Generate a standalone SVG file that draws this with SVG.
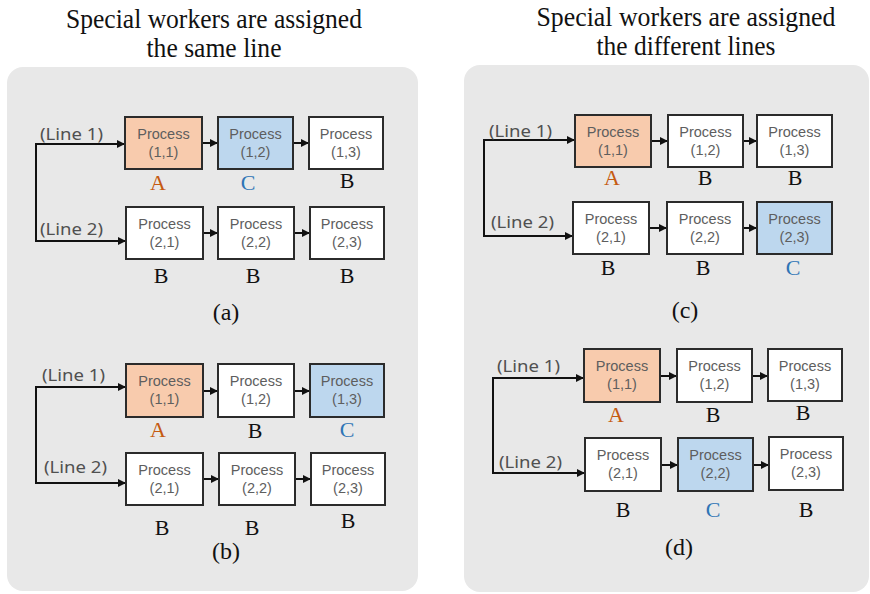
<svg xmlns="http://www.w3.org/2000/svg" width="870" height="594" viewBox="0 0 870 594">
  <defs>
    <marker id="arr" viewBox="0 0 10 10" refX="10" refY="5" markerWidth="8" markerHeight="8" markerUnits="userSpaceOnUse" orient="auto">
      <path d="M0,0 L10,5 L0,10 z" fill="#111"/>
    </marker>
    <style>
      .panel { fill: #e8e8e8; }
      .box { stroke: #2b2b2b; stroke-width: 2; }
      .plain { fill: #ffffff; }
      .orange { fill: #f8cbad; }
      .blue { fill: #bdd7ee; }
      .ptxt { font-family: "Liberation Sans", Arial, sans-serif; font-size: 14.5px; fill: #5e5e5e; text-anchor: middle; }
      .ltxt { font-family: "Noto Sans", "Liberation Sans", sans-serif; font-size: 16px; fill: #505050; }
      .wk { font-family: "Liberation Serif", serif; font-size: 22px; text-anchor: middle; fill: #111; }
      .wa { fill: #c55a11; }
      .wc { fill: #2e75b6; }
      .cap { font-family: "Liberation Serif", serif; font-size: 24px; text-anchor: middle; fill: #111; }
      .title { font-family: "Liberation Serif", serif; font-size: 27px; text-anchor: middle; fill: #111; }
      .con { fill: none; stroke: #111; stroke-width: 2; }
    </style>
  </defs>

  <!-- titles -->
  <text class="title" x="214" y="28" textLength="296" lengthAdjust="spacingAndGlyphs">Special workers are assigned</text>
  <text class="title" x="214" y="57" textLength="135" lengthAdjust="spacingAndGlyphs">the same line</text>
  <text class="title" x="686" y="26" textLength="299" lengthAdjust="spacingAndGlyphs">Special workers are assigned</text>
  <text class="title" x="686" y="55" textLength="179" lengthAdjust="spacingAndGlyphs">the different lines</text>

  <!-- backgrounds -->
  <rect class="panel" x="7" y="67" width="411" height="524" rx="16"/>
  <rect class="panel" x="464" y="65" width="405" height="527" rx="16"/>

  <!-- connectors -->
  <g id="connectors">
    <!-- (a) -->
    <path class="con" d="M36,144 V241 H126" marker-end="url(#arr)"/>
    <path class="con" d="M35,144 H125" marker-end="url(#arr)"/>
    <path class="con" d="M202,143 H218" marker-end="url(#arr)"/>
    <path class="con" d="M293,143 H309" marker-end="url(#arr)"/>
    <path class="con" d="M203,233 H218" marker-end="url(#arr)"/>
    <path class="con" d="M294,233 H310" marker-end="url(#arr)"/>
    <!-- (b) -->
    <path class="con" d="M36,387 V483 H126" marker-end="url(#arr)"/>
    <path class="con" d="M35,387 H126" marker-end="url(#arr)"/>
    <path class="con" d="M203,391 H218" marker-end="url(#arr)"/>
    <path class="con" d="M294,391 H310" marker-end="url(#arr)"/>
    <path class="con" d="M203,479 H219" marker-end="url(#arr)"/>
    <path class="con" d="M295,479 H311" marker-end="url(#arr)"/>
    <!-- (c) -->
    <path class="con" d="M484,140 V236 H573" marker-end="url(#arr)"/>
    <path class="con" d="M483,140 H575" marker-end="url(#arr)"/>
    <path class="con" d="M651,141 H668" marker-end="url(#arr)"/>
    <path class="con" d="M743,141 H757" marker-end="url(#arr)"/>
    <path class="con" d="M649,228 H667" marker-end="url(#arr)"/>
    <path class="con" d="M743,228 H757" marker-end="url(#arr)"/>
    <!-- (d) -->
    <path class="con" d="M493,378 V473 H585" marker-end="url(#arr)"/>
    <path class="con" d="M492,378 H584" marker-end="url(#arr)"/>
    <path class="con" d="M660,376 H677" marker-end="url(#arr)"/>
    <path class="con" d="M752,376 H768" marker-end="url(#arr)"/>
    <path class="con" d="M661,465 H678" marker-end="url(#arr)"/>
    <path class="con" d="M753,465 H769" marker-end="url(#arr)"/>
  </g>

  <!-- panel (a) -->
  <g id="panel-a">
    <text class="ltxt" x="40" y="140" textLength="63" lengthAdjust="spacingAndGlyphs">(Line 1)</text>
    <text class="ltxt" x="40" y="235" textLength="63" lengthAdjust="spacingAndGlyphs">(Line 2)</text>
    <g id="a-p11"><rect class="box orange" x="125" y="117" width="77" height="52"/><text class="ptxt" x="163.5" y="139">Process</text><text class="ptxt" x="163.5" y="157">(1,1)</text></g>
    <g id="a-p12"><rect class="box blue" x="218" y="117" width="75" height="52"/><text class="ptxt" x="255.5" y="139">Process</text><text class="ptxt" x="255.5" y="157">(1,2)</text></g>
    <g id="a-p13"><rect class="box plain" x="309" y="117" width="74" height="52"/><text class="ptxt" x="346" y="139">Process</text><text class="ptxt" x="346" y="157">(1,3)</text></g>
    <g id="a-p21"><rect class="box plain" x="126" y="207" width="77" height="52"/><text class="ptxt" x="164.5" y="229">Process</text><text class="ptxt" x="164.5" y="247">(2,1)</text></g>
    <g id="a-p22"><rect class="box plain" x="218" y="207" width="76" height="52"/><text class="ptxt" x="256" y="229">Process</text><text class="ptxt" x="256" y="247">(2,2)</text></g>
    <g id="a-p23"><rect class="box plain" x="310" y="207" width="74" height="52"/><text class="ptxt" x="347" y="229">Process</text><text class="ptxt" x="347" y="247">(2,3)</text></g>
    <text class="wk wa" x="158" y="190">A</text>
    <text class="wk wc" x="248" y="190">C</text>
    <text class="wk" x="347" y="188">B</text>
    <text class="wk" x="161" y="283">B</text>
    <text class="wk" x="253" y="283">B</text>
    <text class="wk" x="347" y="283">B</text>
    <text class="cap" x="226" y="320">(a)</text>
  </g>

  <!-- panel (b) -->
  <g id="panel-b">
    <text class="ltxt" x="42" y="381" textLength="63" lengthAdjust="spacingAndGlyphs">(Line 1)</text>
    <text class="ltxt" x="44" y="473" textLength="63" lengthAdjust="spacingAndGlyphs">(Line 2)</text>
    <g id="b-p11"><rect class="box orange" x="126" y="364" width="77" height="53"/><text class="ptxt" x="164.5" y="386">Process</text><text class="ptxt" x="164.5" y="404">(1,1)</text></g>
    <g id="b-p12"><rect class="box plain" x="218" y="364" width="76" height="53"/><text class="ptxt" x="256" y="386">Process</text><text class="ptxt" x="256" y="404">(1,2)</text></g>
    <g id="b-p13"><rect class="box blue" x="310" y="364" width="74" height="53"/><text class="ptxt" x="347" y="386">Process</text><text class="ptxt" x="347" y="404">(1,3)</text></g>
    <g id="b-p21"><rect class="box plain" x="126" y="453" width="77" height="52"/><text class="ptxt" x="164.5" y="475">Process</text><text class="ptxt" x="164.5" y="493">(2,1)</text></g>
    <g id="b-p22"><rect class="box plain" x="219" y="453" width="76" height="52"/><text class="ptxt" x="257" y="475">Process</text><text class="ptxt" x="257" y="493">(2,2)</text></g>
    <g id="b-p23"><rect class="box plain" x="311" y="453" width="74" height="52"/><text class="ptxt" x="348" y="475">Process</text><text class="ptxt" x="348" y="493">(2,3)</text></g>
    <text class="wk wa" x="158" y="437">A</text>
    <text class="wk" x="255" y="438">B</text>
    <text class="wk wc" x="347" y="437">C</text>
    <text class="wk" x="162" y="535">B</text>
    <text class="wk" x="252" y="535">B</text>
    <text class="wk" x="348" y="528">B</text>
    <text class="cap" x="226" y="559">(b)</text>
  </g>

  <!-- panel (c) -->
  <g id="panel-c">
    <text class="ltxt" x="489" y="137" textLength="63" lengthAdjust="spacingAndGlyphs">(Line 1)</text>
    <text class="ltxt" x="491" y="228" textLength="63" lengthAdjust="spacingAndGlyphs">(Line 2)</text>
    <g id="c-p11"><rect class="box orange" x="575" y="115" width="76" height="52"/><text class="ptxt" x="613" y="137">Process</text><text class="ptxt" x="613" y="155">(1,1)</text></g>
    <g id="c-p12"><rect class="box plain" x="668" y="115" width="75" height="52"/><text class="ptxt" x="705.5" y="137">Process</text><text class="ptxt" x="705.5" y="155">(1,2)</text></g>
    <g id="c-p13"><rect class="box plain" x="757" y="115" width="75" height="52"/><text class="ptxt" x="794.5" y="137">Process</text><text class="ptxt" x="794.5" y="155">(1,3)</text></g>
    <g id="c-p21"><rect class="box plain" x="573" y="202" width="76" height="52"/><text class="ptxt" x="611" y="224">Process</text><text class="ptxt" x="611" y="242">(2,1)</text></g>
    <g id="c-p22"><rect class="box plain" x="667" y="202" width="76" height="52"/><text class="ptxt" x="705" y="224">Process</text><text class="ptxt" x="705" y="242">(2,2)</text></g>
    <g id="c-p23"><rect class="box blue" x="757" y="202" width="75" height="52"/><text class="ptxt" x="794.5" y="224">Process</text><text class="ptxt" x="794.5" y="242">(2,3)</text></g>
    <text class="wk wa" x="612" y="185">A</text>
    <text class="wk" x="705" y="185">B</text>
    <text class="wk" x="795" y="185">B</text>
    <text class="wk" x="608" y="275">B</text>
    <text class="wk" x="703" y="275">B</text>
    <text class="wk wc" x="793" y="275">C</text>
    <text class="cap" x="685" y="318">(c)</text>
  </g>

  <!-- panel (d) -->
  <g id="panel-d">
    <text class="ltxt" x="497" y="372" textLength="63" lengthAdjust="spacingAndGlyphs">(Line 1)</text>
    <text class="ltxt" x="499" y="468" textLength="63" lengthAdjust="spacingAndGlyphs">(Line 2)</text>
    <g id="d-p11"><rect class="box orange" x="584" y="349" width="76" height="53"/><text class="ptxt" x="622" y="371">Process</text><text class="ptxt" x="622" y="389">(1,1)</text></g>
    <g id="d-p12"><rect class="box plain" x="677" y="349" width="75" height="53"/><text class="ptxt" x="714.5" y="371">Process</text><text class="ptxt" x="714.5" y="389">(1,2)</text></g>
    <g id="d-p13"><rect class="box plain" x="768" y="349" width="74" height="52"/><text class="ptxt" x="805" y="371">Process</text><text class="ptxt" x="805" y="389">(1,3)</text></g>
    <g id="d-p21"><rect class="box plain" x="585" y="438" width="76" height="53"/><text class="ptxt" x="623" y="460">Process</text><text class="ptxt" x="623" y="478">(2,1)</text></g>
    <g id="d-p22"><rect class="box blue" x="678" y="438" width="75" height="53"/><text class="ptxt" x="715.5" y="460">Process</text><text class="ptxt" x="715.5" y="478">(2,2)</text></g>
    <g id="d-p23"><rect class="box plain" x="769" y="437" width="74" height="53"/><text class="ptxt" x="806" y="459">Process</text><text class="ptxt" x="806" y="477">(2,3)</text></g>
    <text class="wk wa" x="616" y="422">A</text>
    <text class="wk" x="713" y="422">B</text>
    <text class="wk" x="803" y="420">B</text>
    <text class="wk" x="623" y="517">B</text>
    <text class="wk wc" x="713" y="517">C</text>
    <text class="wk" x="806" y="517">B</text>
    <text class="cap" x="679" y="555">(d)</text>
  </g>
</svg>
